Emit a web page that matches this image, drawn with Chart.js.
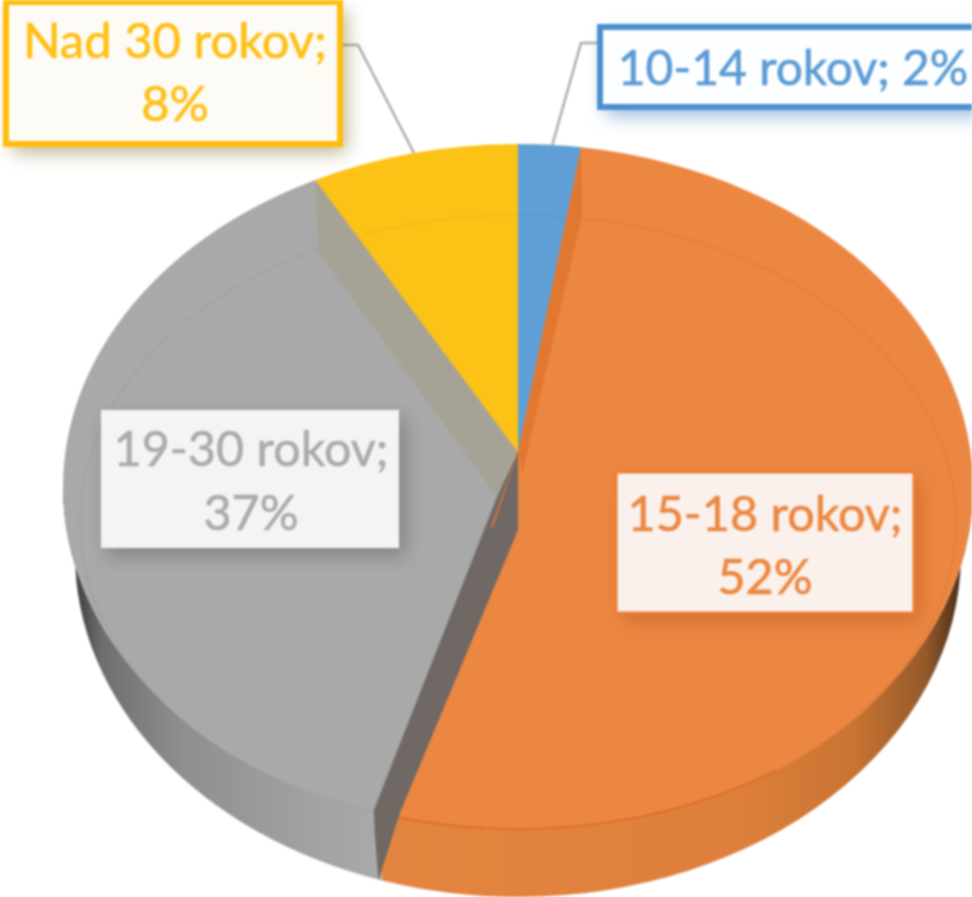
<!DOCTYPE html>
<html>
<head>
<meta charset="utf-8">
<style>
html,body{margin:0;padding:0;background:#fff;overflow:hidden}
canvas{display:block;filter:blur(0.8px)}
</style>
<script src="https://cdn.jsdelivr.net/npm/chart.js@4"></script>
</head>
<body>
<canvas id="c" width="972" height="897"></canvas>
<script>
const categories = ["10-14 rokov", "15-18 rokov", "19-30 rokov", "Nad 30 rokov"];
const shareValues = [2.2, 52.4, 37.4, 7.3];
const shareLabels = [2, 52, 37, 8];
const sliceColors = ["#5F9FD6", "#EC8742", "#A9A9A9", "#FDC216"];
const faintColors = ["#5A98D0", "#E47E38", "#A2A2A2", "#F5B810"];

const G = {cx:518, cy:487, rx:455, ry:343, lowRx:443, depth:67, apexLift:35, font:'Lato, sans-serif'};
const labelStyle = [
  {x:600,y:27,w:380,h:80,fill:"#FDFEFF",border:"#4A8FD0",bw:6,text:"#5B9BD5",shadow:"rgba(70,130,190,.6)",tx:793,ty:[70],oneLine:true,size:48},
  {x:616,y:472,w:298,h:141,fill:"#FAF1EC",border:"#EE7E33",bw:3,text:"#EC8742",shadow:"rgba(170,80,20,.45)",tx:765,ty:[515,578],size:48.5},
  {x:101,y:410,w:298,h:138,fill:"#F4F4F4",border:null,bw:0,text:"#ABABAB",shadow:"rgba(70,70,70,.4)",tx:251,ty:[450,514],size:48.5},
  {x:6,y:2,w:334,h:142,fill:"#FDFBF6",border:"#FFBC0A",bw:6,text:"#FFBF14",shadow:"rgba(120,100,20,.5)",tx:175,ty:[42,105],size:49}
];
const leaderLines = [[[600,43],[581,43],[552,146]], [[342,45],[358,45],[414,153]]];

function rim(a){ return [G.cx + G.rx*Math.cos(a), G.cy + G.ry*Math.sin(a)]; }
function lowRim(a){ return [G.cx + G.lowRx*Math.cos(a), G.cy + G.depth + G.ry*Math.sin(a)]; }
function poly(ctx, color, pts){
  ctx.fillStyle = color; ctx.beginPath();
  pts.forEach((p,i)=> i ? ctx.lineTo(p[0],p[1]) : ctx.moveTo(p[0],p[1]));
  ctx.closePath(); ctx.fill();
}
function sideBand(ctx, a, b, stops){
  const g = ctx.createLinearGradient(G.cx-G.lowRx, 0, G.cx+G.lowRx, 0);
  stops.forEach(s=>g.addColorStop(s[0], s[1]));
  ctx.fillStyle = g; ctx.beginPath();
  ctx.ellipse(G.cx, G.cy+G.depth, G.lowRx, G.ry, 0, a, b);
  ctx.ellipse(G.cx, G.cy, G.rx, G.ry, 0, b, a, true);
  ctx.closePath(); ctx.fill();
}

const pie3d = {
  id:'pie3d',
  beforeDatasetsDraw(chart){
    const ctx = chart.ctx, arcs = chart.getDatasetMeta(0).data;
    const o = arcs[1], g = arcs[2];
    sideBand(ctx, Math.max(o.startAngle,0), Math.min(o.endAngle,Math.PI),
      [[0,"#E08A45"],[.4,"#E3843F"],[.75,"#DE803C"],[.88,"#C87432"],[.96,"#95592A"],[1,"#4A2E16"]]);
    sideBand(ctx, Math.max(g.startAngle,0), Math.min(g.endAngle,Math.PI),
      [[0,"#3E3E3E"],[.03,"#6E6E6E"],[.12,"#8E8E8E"],[.25,"#A0A0A0"],[.38,"#ABADAF"],[1,"#ABADAF"]]);
    const a = arcs[0], k = a.outerRadius;
    ctx.save();
    ctx.translate(G.cx, G.cy);
    ctx.scale(G.rx/k, G.ry/k);
    ctx.translate(-a.x, -a.y);
  },
  afterDatasetsDraw(chart){
    const ctx = chart.ctx, arcs = chart.getDatasetMeta(0).data;
    ctx.restore();
    // faint inner rim
    arcs.forEach((arc,i)=>{
      ctx.strokeStyle = faintColors[i]; ctx.lineWidth = 1.5;
      ctx.beginPath();
      ctx.ellipse(G.cx, G.cy+35, G.rx-17, G.ry-36, 0, arc.startAngle, arc.endAngle);
      ctx.stroke();
    });
    // the front edge of the orange slice is clearly visible
    ctx.strokeStyle = "#DB6F26"; ctx.lineWidth = 2;
    ctx.beginPath();
    ctx.ellipse(G.cx, G.cy+35, G.rx-17, G.ry-36, 0, Math.PI*0.3, arcs[1].endAngle);
    ctx.stroke();
    const apex = [G.cx, G.cy-G.apexLift];
    const blueEnd = rim(arcs[0].endAngle), orangeEnd = rim(arcs[1].endAngle), grayEnd = rim(arcs[2].endAngle);
    const orangeLow = lowRim(arcs[1].endAngle);
    // orange cover for the raised apex and its darker cut face
    poly(ctx, sliceColors[1], [blueEnd, apex, [G.cx,G.cy+50], [G.cx+50,G.cy+20]]);
    poly(ctx, "#E2782F", [blueEnd, apex, [G.cx+4,G.cy-12], [blueEnd[0]+1,blueEnd[1]+68]]);
    // yellow / gray wall
    poly(ctx, "#A6A396", [grayEnd, apex, [G.cx-21,G.cy+10], [grayEnd[0]+3,grayEnd[1]+72]]);
    // gray / orange wall
    poly(ctx, "#6F6864", [apex, [G.cx-21,G.cy+10], [orangeEnd[0]-4,orangeEnd[1]-3], [orangeEnd[0]-3,orangeEnd[1]+20], [orangeLow[0]-3,orangeLow[1]], [orangeEnd[0]+22,orangeEnd[1]], [G.cx,G.cy+43]]);
    poly(ctx, "#DE7A38", [apex, [G.cx-27,G.cy+40], [G.cx-25,G.cy+40], [G.cx-2,G.cy-28]]);
    // leader lines
    ctx.strokeStyle = "#ABABAB"; ctx.lineWidth = 2.5;
    leaderLines.forEach(l=>{
      ctx.beginPath();
      l.forEach((p,i)=> i ? ctx.lineTo(p[0],p[1]) : ctx.moveTo(p[0],p[1]));
      ctx.stroke();
    });
    // label boxes
    ctx.textAlign = 'center'; ctx.textBaseline = 'middle';
    labelStyle.forEach((s,i)=>{
      ctx.save();
      ctx.shadowColor = s.shadow; ctx.shadowBlur = 18; ctx.shadowOffsetX = 6; ctx.shadowOffsetY = 8;
      ctx.fillStyle = s.fill; ctx.fillRect(s.x,s.y,s.w,s.h);
      ctx.restore();
      if (s.border){ ctx.strokeStyle = s.border; ctx.lineWidth = s.bw; ctx.strokeRect(s.x,s.y,s.w,s.h); }
      ctx.font = s.size + 'px ' + G.font;
      ctx.fillStyle = s.text; ctx.strokeStyle = s.text; ctx.lineWidth = 0.6;
      const pct = shareLabels[i] + '%';
      const lines = s.oneLine ? [categories[i] + '; ' + pct] : [categories[i] + ';', pct];
      lines.forEach((t,j)=>{ ctx.fillText(t, s.tx, s.ty[j]); ctx.strokeText(t, s.tx, s.ty[j]); });
    });
  }
};

new Chart(document.getElementById('c'), {
  type:'pie',
  data:{labels:categories, datasets:[{data:shareValues, backgroundColor:sliceColors, borderWidth:0, clip:false}]},
  options:{responsive:false, animation:false, events:[], layout:{padding:0},
    plugins:{legend:{display:false}, tooltip:{enabled:false}}},
  plugins:[pie3d]
});
</script>
</body>
</html>
